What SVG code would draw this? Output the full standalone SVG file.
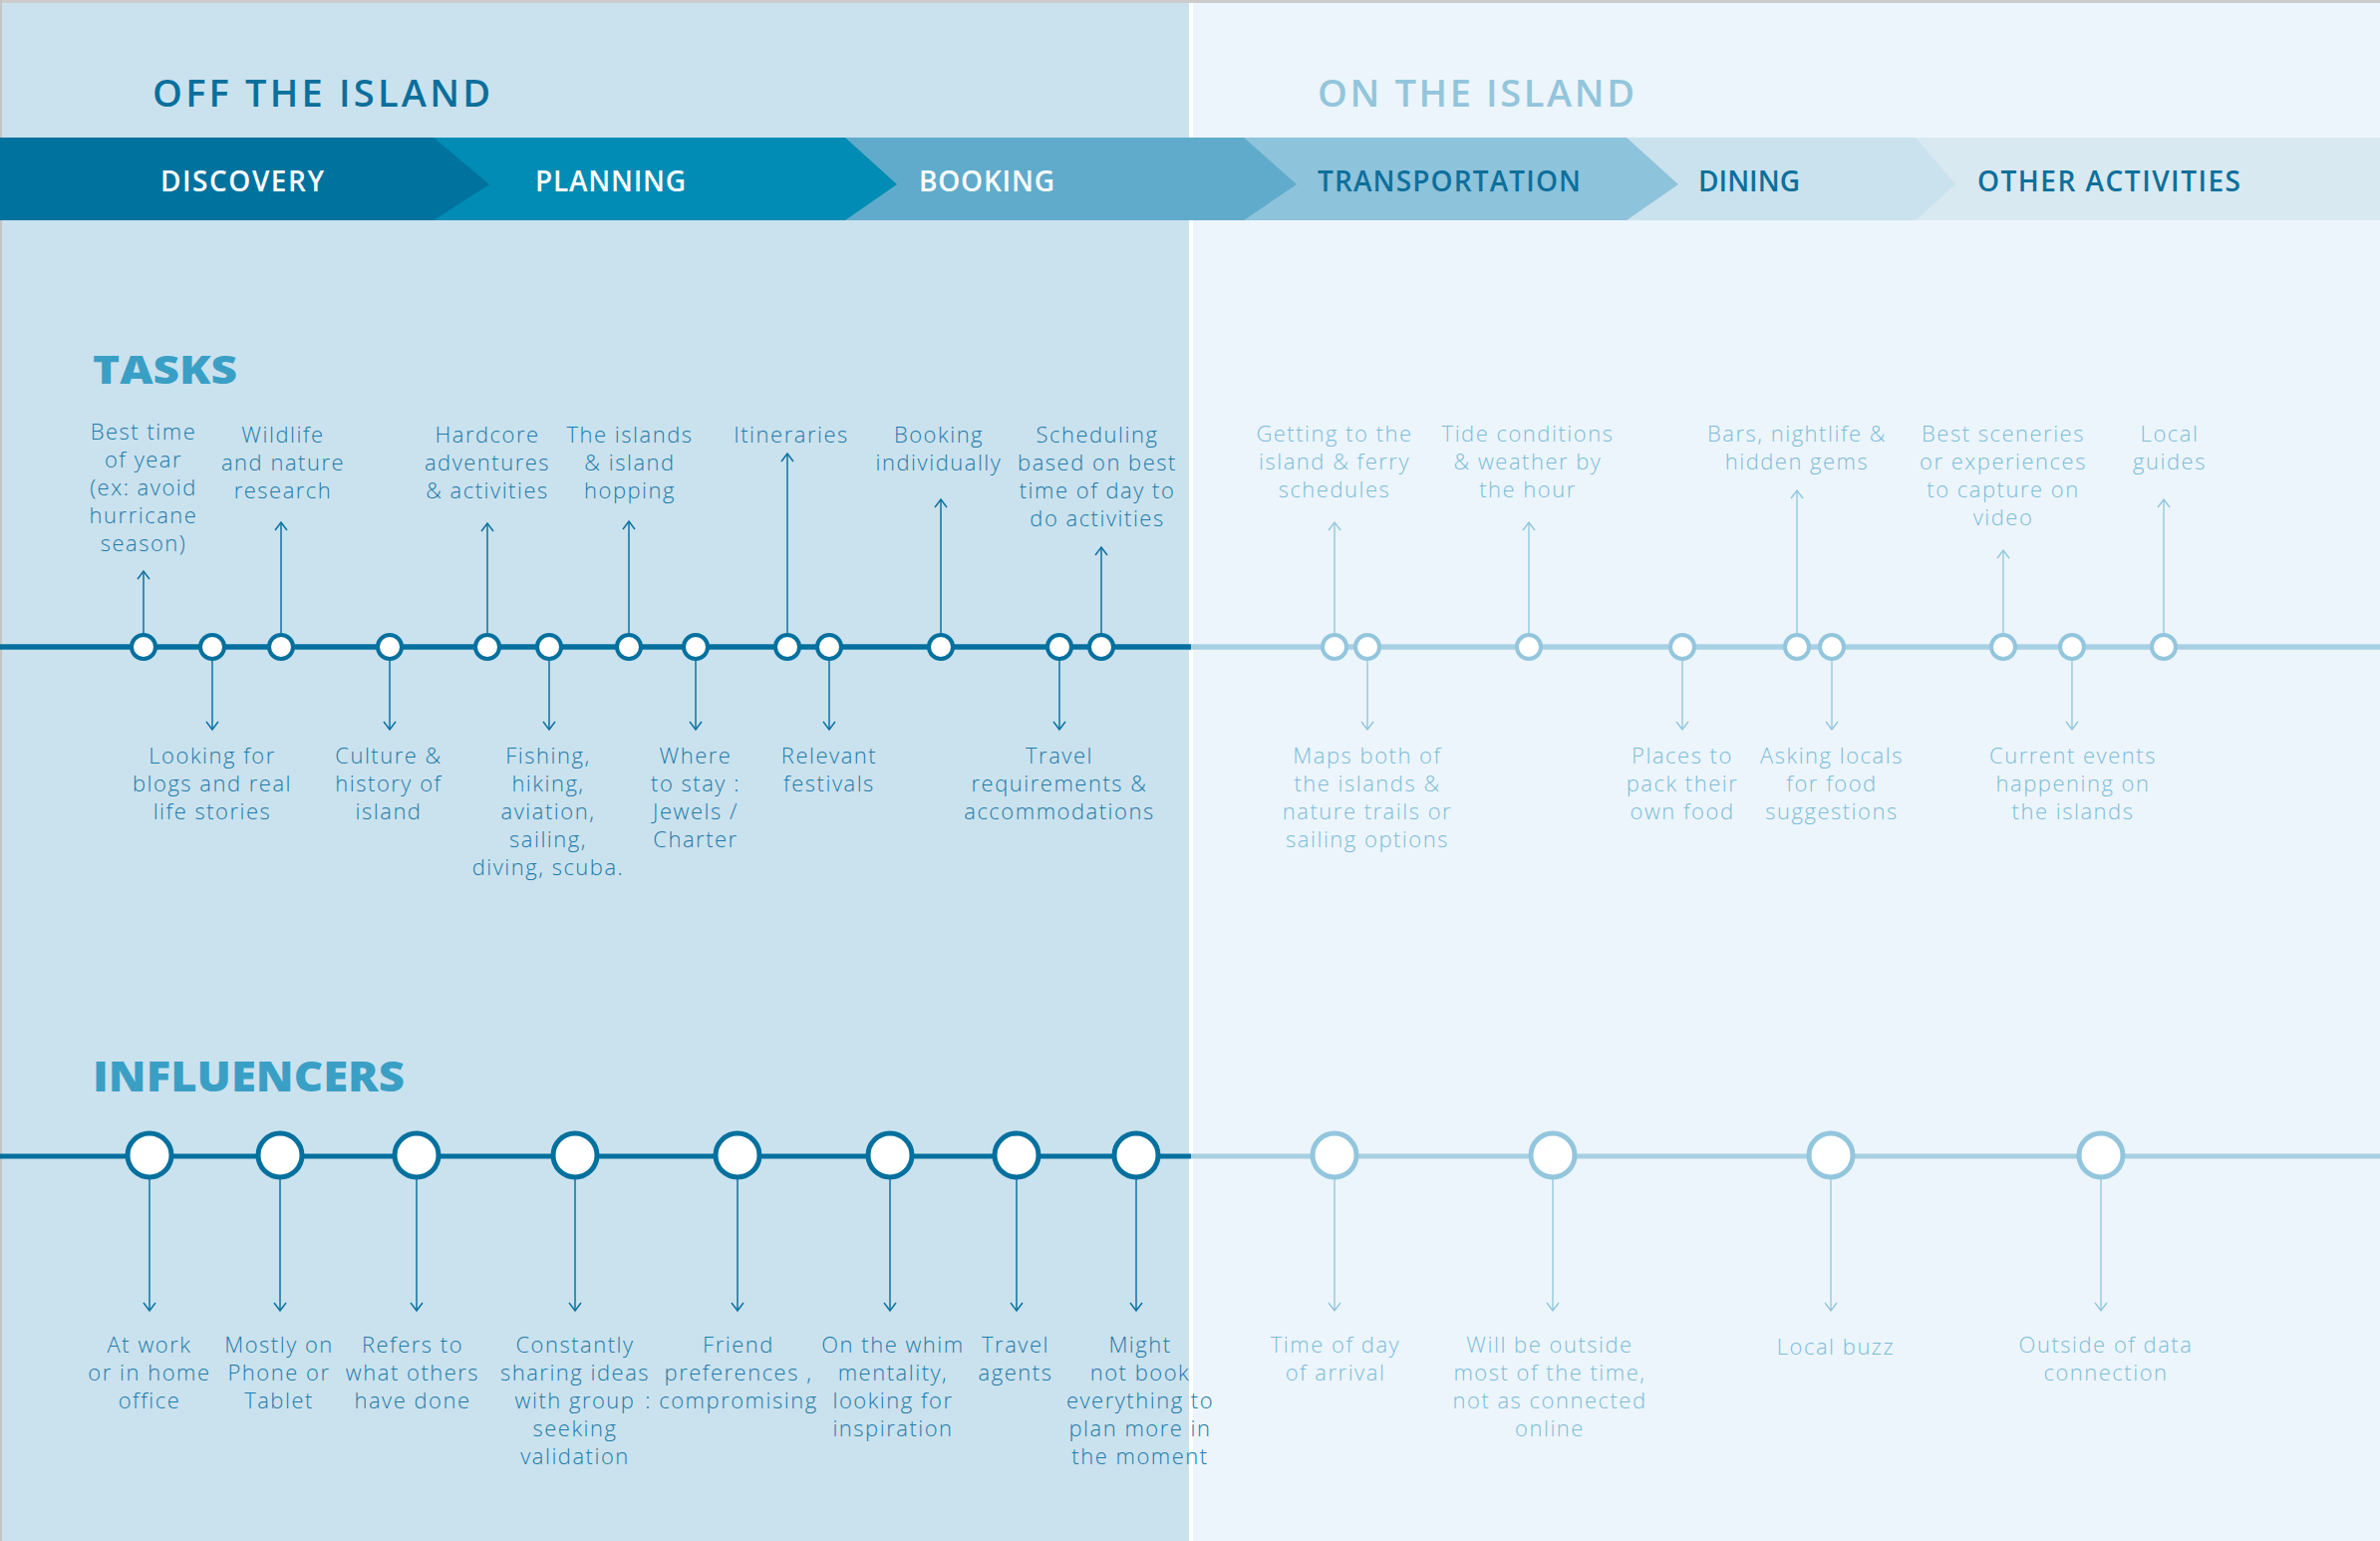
<svg xmlns="http://www.w3.org/2000/svg" width="2388" height="1546" viewBox="0 0 2388 1546">
<defs>
<style>
.lt{font-family:"Open Sans","Liberation Sans",sans-serif;font-weight:300;font-size:22px;letter-spacing:1.5px;text-anchor:middle}
.ld{fill:#1f7aa8}
.ll{fill:#7dbcd8}
.band{font-family:"Open Sans","Liberation Sans",sans-serif;font-weight:600;font-size:28px}
.head{font-family:"Open Sans","Liberation Sans",sans-serif;font-weight:600;font-size:38px}
.sec{font-family:"Open Sans","Liberation Sans",sans-serif;font-weight:800;fill:#3a9fc5}
.cd{fill:#fff;stroke:#04709e;stroke-width:4}
.cl{fill:#fff;stroke:#93c6dd;stroke-width:4}
.id{fill:#fff;stroke:#04709e;stroke-width:5}
.il{fill:#fff;stroke:#93c6dd;stroke-width:5}
.ad{stroke:#0c72a0;stroke-width:1.5;fill:none}
.al{stroke:#8ec4dc;stroke-width:1.3;fill:none}
</style>
<marker id="mD" viewBox="-10 -8 12 16" refX="0" refY="0" markerWidth="12" markerHeight="16" markerUnits="userSpaceOnUse" orient="auto"><path d="M-8,-6 L0,0 L-8,6" fill="none" stroke="#0c72a0" stroke-width="1.5"/></marker>
<marker id="mL" viewBox="-10 -8 12 16" refX="0" refY="0" markerWidth="12" markerHeight="16" markerUnits="userSpaceOnUse" orient="auto"><path d="M-8,-6 L0,0 L-8,6" fill="none" stroke="#8ec4dc" stroke-width="1.3"/></marker>
</defs>

<!-- backgrounds -->
<rect x="0" y="0" width="2388" height="1546" fill="#ecf5fb"/>
<rect x="0" y="0" width="1193" height="1546" fill="#cae2ee"/>
<rect x="1193" y="0" width="4" height="1546" fill="#ffffff"/>
<rect x="0" y="0" width="2388" height="3" fill="#cccccc"/>
<rect x="0" y="0" width="2" height="1546" fill="#c4c4c4"/>

<!-- phase band -->
<g id="phases">
<rect x="1900" y="138" width="488" height="83" fill="#d8e9f2"/>
<polygon points="1610,138 1922,138 1962,185 1922,221 1610,221" fill="#c9e2ee"/>
<polygon points="1230,138 1632,138 1684,185 1632,221 1230,221" fill="#8dc3db"/>
<polygon points="830,138 1248,138 1301,185 1248,221 830,221" fill="#60abcb"/>
<polygon points="420,138 848,138 900,185 848,221 420,221" fill="#008cb4"/>
<polygon points="0,138 435,138 491,185 435,221 0,221" fill="#00729e"/>
<text class="band" x="161" y="192" fill="#ffffff" textLength="164">DISCOVERY</text>
<text class="band" x="537" y="192" fill="#ffffff" textLength="151">PLANNING</text>
<text class="band" x="922" y="192" fill="#ffffff" textLength="136">BOOKING</text>
<text class="band" x="1322" y="192" fill="#0d6f9b" textLength="264">TRANSPORTATION</text>
<text class="band" x="1704" y="192" fill="#0d6f9b" textLength="102">DINING</text>
<text class="band" x="1984" y="192" fill="#0d6f9b" textLength="264">OTHER ACTIVITIES</text>
</g>

<g id="headings">
<text class="head" x="153" y="107" fill="#0b6f9c" textLength="339">OFF THE ISLAND</text>
<text class="head" x="1322" y="107" fill="#93c5dc" textLength="318">ON THE ISLAND</text>
<text class="sec" x="93" y="385" font-size="39" textLength="145" lengthAdjust="spacingAndGlyphs">TASKS</text>
<text class="sec" x="93" y="1095" font-size="42" textLength="313" lengthAdjust="spacingAndGlyphs">INFLUENCERS</text>
</g>

<!-- connectors -->
<g id="connectors">
<line x1="0" y1="649" x2="1195" y2="649" stroke="#04709e" stroke-width="5.5"/>
<line x1="1195" y1="649" x2="2388" y2="649" stroke="#a8d0e3" stroke-width="5.5"/>
<line x1="0" y1="1160" x2="1195" y2="1160" stroke="#04709e" stroke-width="5"/>
<line x1="1195" y1="1160" x2="2388" y2="1160" stroke="#a8d0e3" stroke-width="5"/>
<!-- task arrows left -->
<line class="ad" x1="144" y1="649" x2="144" y2="573" marker-end="url(#mD)"/>
<line class="ad" x1="213" y1="649" x2="213" y2="732" marker-end="url(#mD)"/>
<line class="ad" x1="282" y1="649" x2="282" y2="524" marker-end="url(#mD)"/>
<line class="ad" x1="391" y1="649" x2="391" y2="732" marker-end="url(#mD)"/>
<line class="ad" x1="489" y1="649" x2="489" y2="525" marker-end="url(#mD)"/>
<line class="ad" x1="551" y1="649" x2="551" y2="732" marker-end="url(#mD)"/>
<line class="ad" x1="631" y1="649" x2="631" y2="523" marker-end="url(#mD)"/>
<line class="ad" x1="698" y1="649" x2="698" y2="732" marker-end="url(#mD)"/>
<line class="ad" x1="790" y1="649" x2="790" y2="455" marker-end="url(#mD)"/>
<line class="ad" x1="832" y1="649" x2="832" y2="732" marker-end="url(#mD)"/>
<line class="ad" x1="944" y1="649" x2="944" y2="501" marker-end="url(#mD)"/>
<line class="ad" x1="1063" y1="649" x2="1063" y2="732" marker-end="url(#mD)"/>
<line class="ad" x1="1105" y1="649" x2="1105" y2="549" marker-end="url(#mD)"/>
<!-- task arrows right -->
<line class="al" x1="1339" y1="649" x2="1339" y2="524" marker-end="url(#mL)"/>
<line class="al" x1="1372" y1="649" x2="1372" y2="732" marker-end="url(#mL)"/>
<line class="al" x1="1534" y1="649" x2="1534" y2="524" marker-end="url(#mL)"/>
<line class="al" x1="1688" y1="649" x2="1688" y2="732" marker-end="url(#mL)"/>
<line class="al" x1="1803" y1="649" x2="1803" y2="492" marker-end="url(#mL)"/>
<line class="al" x1="1838" y1="649" x2="1838" y2="732" marker-end="url(#mL)"/>
<line class="al" x1="2010" y1="649" x2="2010" y2="552" marker-end="url(#mL)"/>
<line class="al" x1="2079" y1="649" x2="2079" y2="732" marker-end="url(#mL)"/>
<line class="al" x1="2171" y1="649" x2="2171" y2="501" marker-end="url(#mL)"/>
<!-- influencer arrows -->
<line class="ad" x1="150" y1="1159" x2="150" y2="1315" marker-end="url(#mD)"/>
<line class="ad" x1="281" y1="1159" x2="281" y2="1315" marker-end="url(#mD)"/>
<line class="ad" x1="418" y1="1159" x2="418" y2="1315" marker-end="url(#mD)"/>
<line class="ad" x1="577" y1="1159" x2="577" y2="1315" marker-end="url(#mD)"/>
<line class="ad" x1="740" y1="1159" x2="740" y2="1315" marker-end="url(#mD)"/>
<line class="ad" x1="893" y1="1159" x2="893" y2="1315" marker-end="url(#mD)"/>
<line class="ad" x1="1020" y1="1159" x2="1020" y2="1315" marker-end="url(#mD)"/>
<line class="ad" x1="1140" y1="1159" x2="1140" y2="1315" marker-end="url(#mD)"/>
<line class="al" x1="1339" y1="1159" x2="1339" y2="1315" marker-end="url(#mL)"/>
<line class="al" x1="1558" y1="1159" x2="1558" y2="1315" marker-end="url(#mL)"/>
<line class="al" x1="1837" y1="1159" x2="1837" y2="1315" marker-end="url(#mL)"/>
<line class="al" x1="2108" y1="1159" x2="2108" y2="1315" marker-end="url(#mL)"/>
</g>

<!-- task nodes -->
<g id="task-best-time"><circle class="cd" cx="144" cy="649" r="12"/>
<text class="lt ld" y="441"><tspan x="144">Best time</tspan><tspan x="144" dy="28">of year</tspan><tspan x="144" dy="28">(ex: avoid</tspan><tspan x="144" dy="28">hurricane</tspan><tspan x="144" dy="28">season)</tspan></text></g>
<g id="task-looking"><circle class="cd" cx="213" cy="649" r="12"/>
<text class="lt ld" y="766"><tspan x="213">Looking for</tspan><tspan x="213" dy="28">blogs and real</tspan><tspan x="213" dy="28">life stories</tspan></text></g>
<g id="task-wildlife"><circle class="cd" cx="282" cy="649" r="12"/>
<text class="lt ld" y="444"><tspan x="284">Wildlife</tspan><tspan x="284" dy="28">and nature</tspan><tspan x="284" dy="28">research</tspan></text></g>
<g id="task-culture"><circle class="cd" cx="391" cy="649" r="12"/>
<text class="lt ld" y="766"><tspan x="390">Culture &amp;</tspan><tspan x="390" dy="28">history of</tspan><tspan x="390" dy="28">island</tspan></text></g>
<g id="task-hardcore"><circle class="cd" cx="489" cy="649" r="12"/>
<text class="lt ld" y="444"><tspan x="489">Hardcore</tspan><tspan x="489" dy="28">adventures</tspan><tspan x="489" dy="28">&amp; activities</tspan></text></g>
<g id="task-fishing"><circle class="cd" cx="551" cy="649" r="12"/>
<text class="lt ld" y="766"><tspan x="550">Fishing,</tspan><tspan x="550" dy="28">hiking,</tspan><tspan x="550" dy="28">aviation,</tspan><tspan x="550" dy="28">sailing,</tspan><tspan x="550" dy="28">diving, scuba.</tspan></text></g>
<g id="task-islands"><circle class="cd" cx="631" cy="649" r="12"/>
<text class="lt ld" y="444"><tspan x="632">The islands</tspan><tspan x="632" dy="28">&amp; island</tspan><tspan x="632" dy="28">hopping</tspan></text></g>
<g id="task-where"><circle class="cd" cx="698" cy="649" r="12"/>
<text class="lt ld" y="766"><tspan x="698">Where</tspan><tspan x="698" dy="28">to stay :</tspan><tspan x="698" dy="28">Jewels /</tspan><tspan x="698" dy="28">Charter</tspan></text></g>
<g id="task-itineraries"><circle class="cd" cx="790" cy="649" r="12"/>
<text class="lt ld" y="444"><tspan x="794">Itineraries</tspan></text></g>
<g id="task-festivals"><circle class="cd" cx="832" cy="649" r="12"/>
<text class="lt ld" y="766"><tspan x="832">Relevant</tspan><tspan x="832" dy="28">festivals</tspan></text></g>
<g id="task-booking"><circle class="cd" cx="944" cy="649" r="12"/>
<text class="lt ld" y="444"><tspan x="942">Booking</tspan><tspan x="942" dy="28">individually</tspan></text></g>
<g id="task-travel-req"><circle class="cd" cx="1063" cy="649" r="12"/>
<text class="lt ld" y="766"><tspan x="1063">Travel</tspan><tspan x="1063" dy="28">requirements &amp;</tspan><tspan x="1063" dy="28">accommodations</tspan></text></g>
<g id="task-scheduling"><circle class="cd" cx="1105" cy="649" r="12"/>
<text class="lt ld" y="444"><tspan x="1101">Scheduling</tspan><tspan x="1101" dy="28">based on best</tspan><tspan x="1101" dy="28">time of day to</tspan><tspan x="1101" dy="28">do activities</tspan></text></g>

<g id="task-getting"><circle class="cl" cx="1339" cy="649" r="12"/>
<text class="lt ll" y="443"><tspan x="1339">Getting to the</tspan><tspan x="1339" dy="28">island &amp; ferry</tspan><tspan x="1339" dy="28">schedules</tspan></text></g>
<g id="task-maps"><circle class="cl" cx="1372" cy="649" r="12"/>
<text class="lt ll" y="766"><tspan x="1372">Maps both of</tspan><tspan x="1372" dy="28">the islands &amp;</tspan><tspan x="1372" dy="28">nature trails or</tspan><tspan x="1372" dy="28">sailing options</tspan></text></g>
<g id="task-tide"><circle class="cl" cx="1534" cy="649" r="12"/>
<text class="lt ll" y="443"><tspan x="1533">Tide conditions</tspan><tspan x="1533" dy="28">&amp; weather by</tspan><tspan x="1533" dy="28">the hour</tspan></text></g>
<g id="task-places"><circle class="cl" cx="1688" cy="649" r="12"/>
<text class="lt ll" y="766"><tspan x="1688">Places to</tspan><tspan x="1688" dy="28">pack their</tspan><tspan x="1688" dy="28">own food</tspan></text></g>
<g id="task-bars"><circle class="cl" cx="1803" cy="649" r="12"/>
<text class="lt ll" y="443"><tspan x="1803">Bars, nightlife &amp;</tspan><tspan x="1803" dy="28">hidden gems</tspan></text></g>
<g id="task-asking"><circle class="cl" cx="1838" cy="649" r="12"/>
<text class="lt ll" y="766"><tspan x="1838">Asking locals</tspan><tspan x="1838" dy="28">for food</tspan><tspan x="1838" dy="28">suggestions</tspan></text></g>
<g id="task-sceneries"><circle class="cl" cx="2010" cy="649" r="12"/>
<text class="lt ll" y="443"><tspan x="2010">Best sceneries</tspan><tspan x="2010" dy="28">or experiences</tspan><tspan x="2010" dy="28">to capture on</tspan><tspan x="2010" dy="28">video</tspan></text></g>
<g id="task-events"><circle class="cl" cx="2079" cy="649" r="12"/>
<text class="lt ll" y="766"><tspan x="2080">Current events</tspan><tspan x="2080" dy="28">happening on</tspan><tspan x="2080" dy="28">the islands</tspan></text></g>
<g id="task-guides"><circle class="cl" cx="2171" cy="649" r="12"/>
<text class="lt ll" y="443"><tspan x="2177">Local</tspan><tspan x="2177" dy="28">guides</tspan></text></g>

<!-- influencer nodes -->
<g id="inf-work"><circle class="id" cx="150" cy="1159" r="22"/>
<text class="lt ld" y="1357"><tspan x="150">At work</tspan><tspan x="150" dy="28">or in home</tspan><tspan x="150" dy="28">office</tspan></text></g>
<g id="inf-phone"><circle class="id" cx="281" cy="1159" r="22"/>
<text class="lt ld" y="1357"><tspan x="280">Mostly on</tspan><tspan x="280" dy="28">Phone or</tspan><tspan x="280" dy="28">Tablet</tspan></text></g>
<g id="inf-refers"><circle class="id" cx="418" cy="1159" r="22"/>
<text class="lt ld" y="1357"><tspan x="414">Refers to</tspan><tspan x="414" dy="28">what others</tspan><tspan x="414" dy="28">have done</tspan></text></g>
<g id="inf-sharing"><circle class="id" cx="577" cy="1159" r="22"/>
<text class="lt ld" y="1357"><tspan x="577">Constantly</tspan><tspan x="577" dy="28">sharing ideas</tspan><tspan x="577" dy="28">with group</tspan><tspan x="577" dy="28">seeking</tspan><tspan x="577" dy="28">validation</tspan></text></g>
<g id="inf-friend"><circle class="id" cx="740" cy="1159" r="22"/>
<text class="lt ld" y="1357"><tspan x="741">Friend</tspan><tspan x="741" dy="28">preferences ,</tspan><tspan x="734" dy="28">: compromising</tspan></text></g>
<g id="inf-whim"><circle class="id" cx="893" cy="1159" r="22"/>
<text class="lt ld" y="1357"><tspan x="896">On the whim</tspan><tspan x="896" dy="28">mentality,</tspan><tspan x="896" dy="28">looking for</tspan><tspan x="896" dy="28">inspiration</tspan></text></g>
<g id="inf-agents"><circle class="id" cx="1020" cy="1159" r="22"/>
<text class="lt ld" y="1357"><tspan x="1019">Travel</tspan><tspan x="1019" dy="28">agents</tspan></text></g>
<g id="inf-might"><circle class="id" cx="1140" cy="1159" r="22"/>
<text class="lt ld" y="1357"><tspan x="1144">Might</tspan><tspan x="1144" dy="28">not book</tspan><tspan x="1144" dy="28">everything to</tspan><tspan x="1144" dy="28">plan more in</tspan><tspan x="1144" dy="28">the moment</tspan></text></g>
<g id="inf-time"><circle class="il" cx="1339" cy="1159" r="22"/>
<text class="lt ll" y="1357"><tspan x="1340">Time of day</tspan><tspan x="1340" dy="28">of arrival</tspan></text></g>
<g id="inf-outside"><circle class="il" cx="1558" cy="1159" r="22"/>
<text class="lt ll" y="1357"><tspan x="1555">Will be outside</tspan><tspan x="1555" dy="28">most of the time,</tspan><tspan x="1555" dy="28">not as connected</tspan><tspan x="1555" dy="28">online</tspan></text></g>
<g id="inf-buzz"><circle class="il" cx="1837" cy="1159" r="22"/>
<text class="lt ll" y="1359"><tspan x="1842">Local buzz</tspan></text></g>
<g id="inf-data"><circle class="il" cx="2108" cy="1159" r="22"/>
<text class="lt ll" y="1357"><tspan x="2113">Outside of data</tspan><tspan x="2113" dy="28">connection</tspan></text></g>
</svg>
